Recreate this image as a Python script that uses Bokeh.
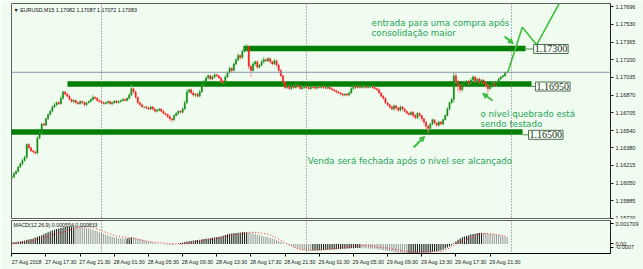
import numpy as np
from bokeh.plotting import figure
from bokeh.layouts import column
from bokeh.models import (Range1d, FixedTicker, PrintfTickFormatter, Span, Label,
                          Arrow, NormalHead)
from bokeh.core.properties import value
from bokeh.embed import file_html
from bokeh.resources import INLINE

# ---------------- data (prices as 1/100000 above 1.16000) ----------------
BASE = 1.16
SCALE = 1e5
first_open = 100
closes = [
    110, 140, 160, 200, 230, 260, 290, 410, 380, 350,
    340, 330, 470, 520, 600, 590, 650, 690, 720, 760,
    780, 800, 790, 840, 900, 880, 860, 830, 810, 820,
    800, 790, 810, 800, 780, 800, 810, 830, 850, 840,
    820, 810, 800, 790, 800, 810, 790, 800, 815, 800,
    810, 820, 830, 820, 840, 870, 930, 900, 850, 800,
    780, 760, 760, 750, 740, 760, 740, 720, 730, 740,
    720, 700, 690, 670, 650, 640, 680, 700, 720, 710,
    740, 800, 900, 920, 890, 870, 880, 860, 900, 960,
    1000, 1030, 1050, 1020, 1040, 1060, 1050, 1030, 1000, 990,
    1040, 1080, 1120, 1100, 1160, 1200, 1240, 1220, 1280, 1300,
    1320, 1140, 1100, 1160, 1180, 1130, 1150, 1180, 1200, 1190,
    1210, 1180, 1160, 1190, 1150, 1100, 1050, 990, 940, 950,
    930, 950, 940, 960, 950, 930, 940, 950, 940, 930,
    945, 940, 935, 945, 940, 950, 940, 935, 945, 930,
    920, 910, 900, 890, 880, 870, 880, 870, 890, 930,
    950, 940, 950, 940, 945, 950, 940, 945, 950, 940,
    930, 920, 890, 860, 840, 800, 780, 760, 740, 770,
    750, 730, 760, 740, 720, 700, 690, 710, 680, 660,
    700, 680, 650, 620, 580, 560, 600, 640, 610, 590,
    620, 600, 640, 680, 740, 800, 830, 1050, 1000, 960,
    920, 960, 990, 1000, 980, 1010, 1040, 1000, 1020, 990,
    1010, 980, 960, 930, 950, 980, 960, 990, 1020, 1040,
    1050, 1082, 1083]
upper_wicks = [
    10, 15, 8, 12, 10, 20, 15, 10, 12, 8,
    10, 15, 20, 10, 12, 15, 10, 8, 12, 15,
    20, 10, 15, 25, 12, 10, 8, 15, 10, 12,
    8, 10, 12, 10, 15, 8, 10, 12, 20, 10,
    12, 8, 10, 15, 10, 8, 12, 10, 8, 10,
    12, 10, 15, 8, 10, 20, 40, 10, 15, 8,
    10, 12, 8, 10, 15, 10, 8, 12, 10, 8,
    10, 12, 8, 10, 15, 8, 10, 12, 8, 10,
    15, 20, 25, 10, 12, 15, 10, 12, 20, 15,
    10, 20, 12, 10, 15, 12, 8, 10, 12, 10,
    15, 12, 20, 10, 15, 12, 20, 10, 15, 12,
    25, 15, 10, 20, 12, 15, 10, 20, 25, 12,
    15, 10, 12, 20, 10, 12, 15, 10, 12, 8,
    10, 8, 10, 12, 8, 10, 12, 8, 10, 8,
    8, 10, 8, 10, 12, 8, 10, 8, 10, 8,
    10, 8, 12, 10, 8, 10, 8, 12, 15, 20,
    10, 8, 10, 8, 12, 10, 8, 10, 8, 10,
    8, 10, 12, 8, 10, 12, 8, 10, 15, 12,
    10, 12, 15, 10, 12, 8, 10, 12, 10, 15,
    12, 10, 8, 10, 12, 15, 10, 12, 8, 10,
    12, 10, 15, 12, 20, 10, 15, 30, 25, 15,
    10, 20, 15, 10, 12, 20, 15, 10, 12, 15,
    10, 12, 8, 15, 10, 12, 10, 15, 12, 10,
    8, 5, 4]
lower_wicks = [
    20, 15, 10, 12, 8, 15, 10, 12, 15, 10,
    12, 15, 10, 12, 15, 10, 8, 12, 10, 12,
    10, 15, 12, 8, 10, 15, 12, 10, 12, 15,
    10, 12, 8, 10, 15, 12, 10, 8, 10, 12,
    10, 12, 15, 10, 8, 12, 10, 15, 12, 10,
    8, 10, 12, 10, 8, 10, 10, 15, 12, 15,
    12, 10, 15, 12, 10, 8, 12, 15, 10, 12,
    10, 12, 15, 15, 20, 25, 12, 10, 15, 12,
    10, 8, 10, 15, 12, 15, 20, 12, 10, 10,
    12, 10, 15, 12, 10, 15, 12, 10, 15, 12,
    10, 12, 10, 20, 10, 12, 15, 25, 10, 12,
    15, 30, 60, 12, 20, 15, 12, 10, 15, 12,
    10, 15, 12, 10, 15, 20, 15, 12, 15, 10,
    12, 10, 8, 10, 12, 8, 10, 12, 8, 10,
    10, 8, 12, 10, 8, 10, 12, 8, 10, 12,
    10, 12, 15, 10, 12, 15, 10, 12, 10, 8,
    10, 12, 8, 10, 8, 10, 12, 8, 10, 12,
    10, 15, 12, 10, 15, 12, 15, 20, 12, 15,
    20, 15, 12, 15, 10, 12, 15, 10, 20, 15,
    12, 15, 20, 25, 30, 40, 15, 12, 15, 20,
    12, 15, 10, 8, 10, 12, 10, 30, 20, 60,
    30, 15, 12, 10, 15, 10, 12, 15, 10, 12,
    15, 10, 20, 40, 15, 12, 10, 15, 10, 12,
    10, 12, 10]

# MACD(12,26,9) values in units of 0.00001
macd_hist = [
    10, 12, 14, 15, 17, 19,
    25, 30, 33, 36, 40, 46, 52, 58, 64, 70,
    78, 85, 92, 98, 104, 108, 112, 116, 120, 124,
    126, 128, 128, 129, 128, 127, 126, 124, 121, 118,
    114, 110, 104, 98, 92, 86, 80, 74, 68, 62,
    56, 52, 48, 46, 44, 42, 41, 40, 40, 42,
    48, 46, 42, 38, 34, 30, 26,
    22, 18, 14, 10, 7, 4, 2, 0, -2, -4, -5, -6, -5,
    -3, 0, 3, 6, 10, 14, 18, 20, 22, 24,
    26, 28, 30, 33, 36, 38, 40, 42, 45, 48, 50, 52, 55, 60, 65,
    70, 74, 76, 78, 80, 82, 84, 85, 86, 86,
    84, 80, 76, 72, 68, 64, 60, 56, 52, 48,
    44, 40, 34, 28, 22, 15, 8, 2, -4, -10,
    -16, -22, -28, -34, -38, -42, -45, -47, -48, -49,
    -49, -48, -47, -46, -45, -44, -43, -42, -41, -40,
    -40, -39, -38, -37, -36, -35, -34, -33, -32, -31,
    -30, -30, -30, -31, -32, -33, -34, -35, -36, -37, -38, -40, -42, -45, -48,
    -51, -54, -57, -60, -62, -64, -65, -66, -67, -68,
    -68, -68, -67, -66, -65, -64, -64, -63, -62, -62,
    -60, -58, -56, -54, -50, -46, -40, -34, -26, -18,
    -10, 5, 18, 30, 40,
    48, 54, 60, 64, 68, 72, 75, 78, 80, 80,
    79, 78, 76, 74, 72, 69, 66, 63, 60, 56, 53, 50]
macd_signal = [
    0, 2, 5, 7, 10, 12, 15, 17, 20, 22, 25,
    29, 33, 37, 42, 46, 51, 55, 60,
    64, 69, 73, 78, 82, 86, 91, 95,
    100, 105, 110, 115, 120, 125,
    126, 127, 127, 126, 124,
    119, 114, 109, 103, 97,
    91, 85, 79, 74, 68, 62,
    59, 56, 53, 51, 49, 46, 44, 42, 40,
    37, 34, 31, 28, 25, 22, 20, 17, 15,
    13, 12, 10, 8, 7, 5, 4, 3, 2, 1,
    0, 0, 0, 0, 0, 1,
    4, 8, 12, 16, 20, 24,
    26, 28, 30, 32, 34, 36, 38, 40, 42, 45,
    48, 52, 56, 60, 63, 66, 69, 72, 75,
    78, 80, 82, 84, 85, 85,
    84, 82, 80, 78, 76, 73, 70,
    64, 57, 50, 43, 35, 27,
    18, 9, 0, -9, -17, -25,
    -31, -36, -40, -43, -45, -46,
    -47, -47, -47, -46, -46, -45, -45,
    -43, -42, -40, -38, -36, -34, -32, -31, -30,
    -28, -26, -24, -22, -20, -18, -16, -14, -12,
    -12, -13, -14, -15, -16, -18, -20,
    -22, -24, -26, -28, -29, -30,
    -33, -36, -39, -42, -45, -48, -51, -53, -55,
    -57, -58, -59, -60, -60, -60, -60, -60, -59, -59,
    -58, -58, -57, -56, -56, -55,
    -50, -44, -37, -30,
    -20, -11, -2, 7, 15,
    21, 27, 33, 39, 45,
    52, 59, 66, 73,
    75, 76, 76, 75, 74, 72, 70,
    68, 66, 64, 61, 58, 55]

date_label_bars = [0, 16, 32, 48, 64, 80, 96, 112, 128, 144, 160, 176, 192, 208, 224]
date_labels = ["27 Aug 2018", "27 Aug 17:30", "27 Aug 21:30", "28 Aug 01:30",
               "28 Aug 05:30", "28 Aug 09:30", "28 Aug 13:30", "28 Aug 17:30",
               "28 Aug 21:30", "29 Aug 01:30", "29 Aug 05:30", "29 Aug 09:30",
               "29 Aug 13:30", "29 Aug 17:30", "29 Aug 21:30"]
price_ticks = [1.15720, 1.15885, 1.16050, 1.16215, 1.16380, 1.16540, 1.16705,
               1.16870, 1.17035, 1.17200, 1.17365, 1.17530, 1.17696]
separator_bars = [42, 138, 234]
current_price = 1.17083
ohlc_text = "\u25bc EURUSD,M15  1.17082 1.17087 1.17072 1.17083"
macd_text = "MACD(12,26,9) 0.000554 0.000833"

levels = [1.17300, 1.16950, 1.16500]
level_labels = ["1.17300", "1.16950", "1.16500"]
level_line_prices = [1.17305, 1.16974, 1.16526]
level_line_from = [108.5, 26.1, -0.2]
level_line_to = [240.6, 243.4, 239.2]

zigzag_bars = [232.3, 239.1, 245.8, 257.9]
zigzag_prices = [1.17084, 1.17503, 1.17339, 1.17780]

notes = ["entrada para uma compra após", "consolidação maior",
         "o nível quebrado está", "sendo testado",
         "Venda será fechada após o nível ser alcançado"]

# ---------------- derived ----------------
idx = np.arange(len(closes))
c = BASE + np.array(closes) / SCALE
o = BASE + np.array([first_open] + closes[:-1]) / SCALE
hi = np.maximum(o, c) + np.array(upper_wicks) / SCALE
lo = np.minimum(o, c) - np.array(lower_wicks) / SCALE
bull = c >= o
body_col = np.where(bull, "#148c14", "#f01c1c")
wick_col = np.where(bull, "#6cbc6c", "#ff8a8a")

hist = np.array(macd_hist) / SCALE
sig = np.array(macd_signal) / SCALE
rising = np.concatenate([[True], np.diff(hist) >= 0])
hist_col = np.where(rising, "#1a1a1a", "#9c9c9c")

BG = "#f0fcf0"
GREEN = "#007f00"
LIME = "#3cbf3c"
NOTE = "#25a356"
AX = "#202020"

xr = Range1d(-0.14, 280.4)

# ---------------- main price panel ----------------
p1 = figure(width=643, height=219, x_range=xr, y_range=Range1d(1.157107, 1.17724),
            output_backend="svg", toolbar_location=None, x_axis_location=None,
            y_axis_location="right", min_border_left=11, min_border_right=33,
            min_border_top=3, min_border_bottom=0)
p1.background_fill_color = BG
p1.border_fill_color = BG
p1.outline_line_color = "#606060"
p1.grid.visible = False
ya = p1.yaxis[0]
ya.ticker = FixedTicker(ticks=price_ticks)
ya.formatter = PrintfTickFormatter(format="%.5f")
ya.major_tick_out = 3
ya.major_tick_in = 0
ya.minor_tick_out = 0
ya.minor_tick_in = 0
ya.major_label_standoff = 2
ya.major_label_text_font = "Liberation Sans"
ya.major_label_text_font_size = "5.5px"
ya.major_label_text_color = AX
ya.axis_line_color = AX
ya.major_tick_line_color = AX

for b in separator_bars:
    p1.add_layout(Span(location=b, dimension="height", line_color="#6a6a6a",
                       line_dash="1 2", line_width=1))
p1.add_layout(Span(location=current_price, dimension="width", line_color="#8796ae",
                   line_width=1))

# level lines
p1.segment(x0=level_line_from, x1=level_line_to, y0=level_line_prices,
           y1=level_line_prices, line_color=GREEN, line_width=5.5, line_cap="butt")

# candles
p1.segment(x0=idx, x1=idx, y0=lo, y1=hi, line_color=wick_col, line_width=1)
p1.vbar(x=idx, top=np.maximum(o, c), bottom=np.minimum(o, c), width=0.55,
        fill_color=body_col, line_color=body_col, line_width=0.5)

# connectors and price labels of the levels
label_bars = [244.4, 245.3, 242.0]
p1.segment(x0=level_line_to, x1=label_bars, y0=levels, y1=levels,
           line_color="#4f8a4f", line_width=1)
for lb, lv, lt in zip(label_bars, levels, level_labels):
    p1.add_layout(Label(x=lb, y=lv, text=lt, text_baseline="middle", text_align="left",
                        text_font="Liberation Serif", text_font_size="10px",
                        text_color="#1e2a1e", background_fill_color="#f6fff6",
                        border_line_color="#4f6f4f", border_line_width=1, padding=1))

# forecast zig-zag
p1.line(zigzag_bars, zigzag_prices, line_color=LIME, line_width=1.6)

# arrows
for (xs, ys, xe, ye) in [(230.8, 1.17416, 234.9, 1.17351),
                         (225.2, 1.16820, 220.5, 1.16885),
                         (188.2, 1.16382, 193.3, 1.16484)]:
    p1.add_layout(Arrow(end=NormalHead(size=5, fill_color=LIME, line_color=LIME),
                        x_start=xs, y_start=ys, x_end=xe, y_end=ye,
                        line_color=LIME, line_width=2))

# notes
p1.text(x=[168.5, 168.5, 219.5, 219.5, 138.6],
        y=[1.17538, 1.17449, 1.16694, 1.16601, 1.16256],
        text=notes, text_font=value("DejaVu Sans"), text_font_size="8.7px",
        text_color=NOTE, text_baseline="alphabetic", text_align="left")

p1.text(x=[0.8], y=[1.17668], text=[ohlc_text], text_font=value("Liberation Sans"),
        text_font_size="5.3px", text_color="#101010", text_baseline="middle")

p1.add_layout(Label(x=281.9, y=current_price, text="1.17083", text_baseline="middle",
                    text_align="left", text_font="Liberation Sans", text_font_size="5.5px",
                    text_color="white", background_fill_color="black", padding=1))

# ---------------- MACD panel ----------------
p2 = figure(width=643, height=50, x_range=xr, y_range=Range1d(-0.0007, 0.001709),
            output_backend="svg", toolbar_location=None, y_axis_location="right",
            min_border_left=11, min_border_right=33, min_border_top=1,
            min_border_bottom=16)
p2.background_fill_color = BG
p2.border_fill_color = BG
p2.outline_line_color = "#606060"
p2.grid.visible = False

p2.vbar(x=idx, top=hist, bottom=0, width=0.5, fill_color=hist_col, line_color=None)
p2.line(idx, sig, line_color="#ff2020", line_dash="1 2", line_width=1)
for b in separator_bars:
    p2.add_layout(Span(location=b, dimension="height", line_color="#6a6a6a",
                       line_dash="1 2", line_width=1))
p2.text(x=[0.8], y=[0.001417], text=[macd_text], text_font=value("Liberation Sans"),
        text_font_size="5.3px", text_color="#101010", text_baseline="middle")

xa = p2.xaxis[0]
centres = [b + 7 for b in date_label_bars]
xa.ticker = FixedTicker(ticks=centres, minor_ticks=date_label_bars)
xa.major_label_overrides = {cb: lab for cb, lab in zip(centres, date_labels)}
xa.major_tick_out = 0
xa.major_tick_in = 0
xa.minor_tick_out = 3
xa.minor_tick_in = 0
xa.major_label_standoff = 2
xa.major_label_text_font = "Liberation Sans"
xa.major_label_text_font_size = "5.3px"
xa.major_label_text_color = AX
xa.axis_line_color = "#000000"
xa.minor_tick_line_color = "#000000"

ya2 = p2.yaxis[0]
ya2.ticker = FixedTicker(ticks=[0.00149, 0.0, -0.00026])
ya2.major_label_overrides = {0.00149: "0.001709", 0.0: "0.00", -0.00026: "-0.0007"}
ya2.major_tick_out = 3
ya2.major_tick_in = 0
ya2.minor_tick_out = 0
ya2.minor_tick_in = 0
ya2.major_label_standoff = 2
ya2.major_label_text_font = "Liberation Sans"
ya2.major_label_text_font_size = "5.5px"
ya2.major_label_text_color = AX
ya2.axis_line_color = AX

layout = column(p1, p2)
open("out.html", "w").write(file_html(layout, INLINE))
